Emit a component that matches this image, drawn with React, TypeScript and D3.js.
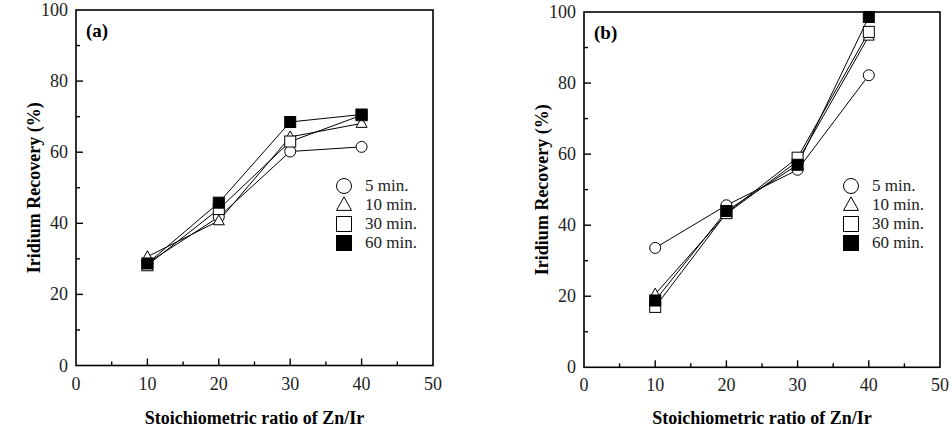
import React, { useEffect, useRef } from "react";
import * as d3 from "d3";

const ratios = [10, 20, 30, 40];
const seriesNames = ["5 min.", "10 min.", "30 min.", "60 min."];
const markerKinds = ["circle", "triangle", "square", "filledSquare"];

const panelA_5 = [28.8, 41.8, 60.2, 61.5];
const panelA_10 = [30.6, 40.7, 64.3, 68.1];
const panelA_30 = [28.2, 44.0, 63.0, 70.4];
const panelA_60 = [28.7, 45.8, 68.5, 70.6];

const panelB_5 = [33.6, 45.6, 55.6, 82.2];
const panelB_10 = [20.6, 43.2, 58.0, 93.2];
const panelB_30 = [17.0, 43.4, 59.0, 94.4];
const panelB_60 = [18.8, 44.0, 57.0, 98.6];

const xTicks = [0, 10, 20, 30, 40, 50];
const yTicks = [0, 20, 40, 60, 80, 100];

const panels = [
  { label: "(a)", series: [panelA_5, panelA_10, panelA_30, panelA_60], left: 76, right: 433, top: 10, bottom: 365.5 },
  { label: "(b)", series: [panelB_5, panelB_10, panelB_30, panelB_60], left: 584, right: 940, top: 12, bottom: 367.3 },
];

const FONT = "Liberation Serif, DejaVu Serif, Times New Roman, serif";

function drawMarker(g: any, kind: string, x: number, y: number, s: number) {
  if (kind === "circle") {
    g.append("circle").attr("cx", x).attr("cy", y).attr("r", s / 2).attr("fill", "#fff").attr("stroke", "#000").attr("stroke-width", 1);
  } else if (kind === "triangle") {
    const h = s * 0.9;
    const pts = [[x, y - h * 0.6], [x - s / 2, y + h * 0.4], [x + s / 2, y + h * 0.4]];
    g.append("polygon").attr("points", pts.map((p) => p.join(",")).join(" ")).attr("fill", "#fff").attr("stroke", "#000").attr("stroke-width", 1);
  } else if (kind === "square") {
    g.append("rect").attr("x", x - s / 2).attr("y", y - s / 2).attr("width", s).attr("height", s).attr("fill", "#fff").attr("stroke", "#000").attr("stroke-width", 1);
  } else {
    g.append("rect").attr("x", x - s / 2).attr("y", y - s / 2).attr("width", s).attr("height", s).attr("fill", "#000").attr("stroke", "#000").attr("stroke-width", 1);
  }
}

export default function App() {
  const ref = useRef<SVGSVGElement>(null);
  useEffect(() => {
    const svg = d3.select(ref.current);
    svg.selectAll("*").remove();
    svg.append("rect").attr("width", 951).attr("height", 433).attr("fill", "#fff");

    panels.forEach((p) => {
      const x = d3.scaleLinear().domain([0, 50]).range([p.left, p.right]);
      const y = d3.scaleLinear().domain([0, 100]).range([p.bottom, p.top]);
      const g = svg.append("g").style("font-family", FONT);

      g.append("rect").attr("x", p.left).attr("y", p.top).attr("width", p.right - p.left).attr("height", p.bottom - p.top)
        .attr("fill", "none").attr("stroke", "#000").attr("stroke-width", 1.6);

      d3.range(0, 51, 5).forEach((v) => {
        if (v === 0 || v === 50) return;
        const major = v % 10 === 0;
        g.append("line").attr("x1", x(v)).attr("x2", x(v)).attr("y1", p.bottom).attr("y2", p.bottom - (major ? 7 : 4))
          .attr("stroke", "#000").attr("stroke-width", 1.4);
      });
      d3.range(0, 101, 10).forEach((v) => {
        if (v === 0 || v === 100) return;
        const major = v % 20 === 0;
        g.append("line").attr("x1", p.left).attr("x2", p.left + (major ? 7 : 4)).attr("y1", y(v)).attr("y2", y(v))
          .attr("stroke", "#000").attr("stroke-width", 1.4);
      });
      xTicks.forEach((v) => {
        g.append("text").attr("x", x(v)).attr("y", p.bottom + 24).attr("text-anchor", "middle")
          .style("font-family", FONT).attr("font-size", 18).attr("fill", "#222").text(String(v));
      });
      yTicks.forEach((v) => {
        g.append("text").attr("x", p.left - 8).attr("y", y(v) + 6).attr("text-anchor", "end")
          .style("font-family", FONT).attr("font-size", 18).attr("fill", "#222").text(String(v));
      });

      g.append("text").attr("x", (p.left + p.right) / 2).attr("y", 424).attr("text-anchor", "middle")
        .style("font-family", FONT).attr("font-weight", "bold").attr("font-size", 18).text("Stoichiometric ratio of Zn/Ir");
      g.append("text").attr("transform", `translate(${p.left - 36},${(p.top + p.bottom) / 2}) rotate(-90)`)
        .attr("text-anchor", "middle").style("font-family", FONT).attr("font-weight", "bold").attr("font-size", 18)
        .text("Iridium Recovery (%)");

      g.append("text").attr("x", p.left + 10).attr("y", p.top + 27).style("font-family", FONT).attr("font-weight", "bold")
        .attr("font-size", 19).text(p.label);

      const line = d3.line<number>().x((_, i) => x(ratios[i])).y((d) => y(d));
      p.series.forEach((s) => {
        g.append("path").attr("d", line(s)).attr("fill", "none").attr("stroke", "#000").attr("stroke-width", 1);
      });
      p.series.forEach((s, si) => {
        s.forEach((v, i) => drawMarker(g, markerKinds[si], x(ratios[i]), y(v), 11));
      });

      const lx = p.right - 89;
      seriesNames.forEach((name, i) => {
        const ly = 186 + i * 19;
        drawMarker(g, markerKinds[i], lx, ly, 15);
        g.append("text").attr("x", lx + 21).attr("y", ly + 5).style("font-family", FONT).attr("font-size", 17)
          .attr("fill", "#222").text(name);
      });
    });
  }, []);
  return <svg ref={ref} width={951} height={433} style={{ display: "block", position: "absolute", left: 0, top: 0 }} />;
}
